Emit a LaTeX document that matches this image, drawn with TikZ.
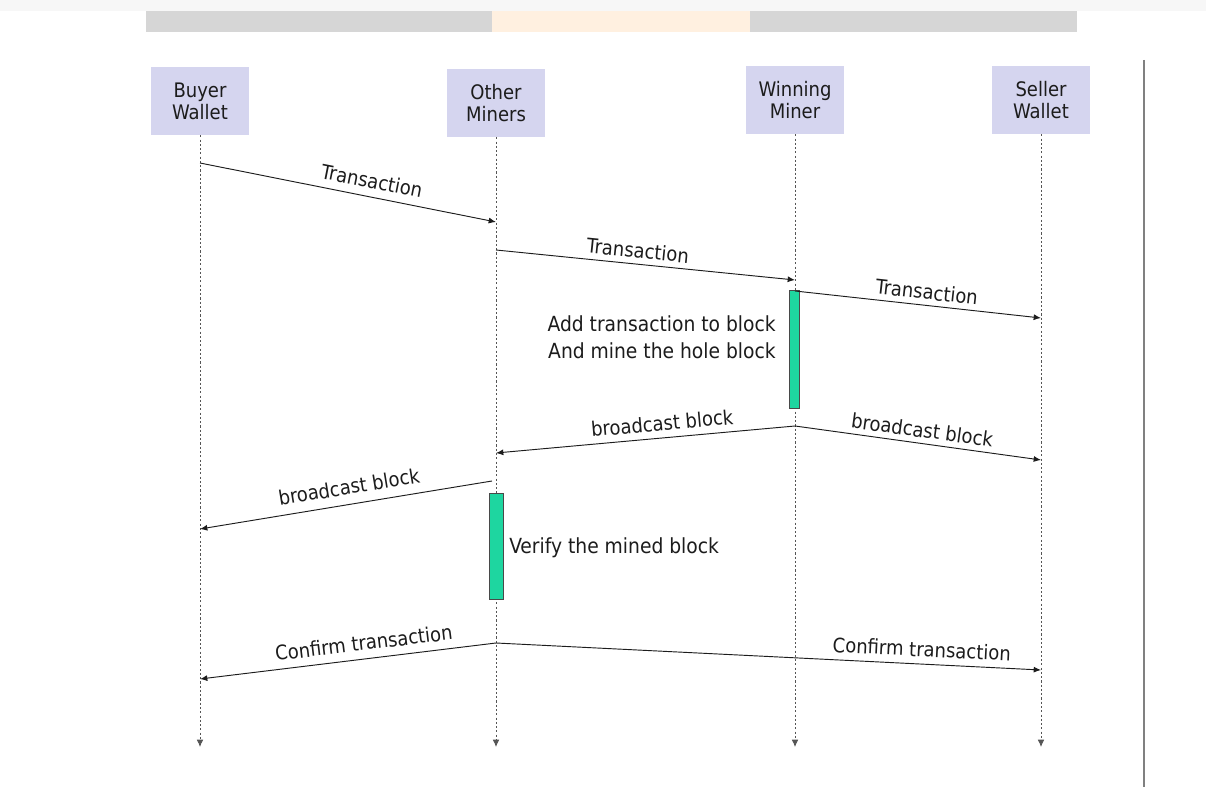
\documentclass[tikz,border=0pt]{standalone}
\usepackage{fontspec}
\setmainfont{DejaVu Sans Condensed}
\usetikzlibrary{arrows.meta}

\definecolor{actorfill}{HTML}{D5D5EF}
\definecolor{inkdark}{HTML}{1C1C1C}
\definecolor{barfill}{HTML}{1ED6A0}
\definecolor{lifegray}{HTML}{555555}

\tikzset{
  actor/.style={fill=actorfill, draw=none, minimum width=74pt, minimum height=51pt,
    align=center, text=inkdark, font=\fontsize{15}{16.5}\selectfont, inner sep=0pt},
  lifeline/.style={draw=lifegray, line width=0.6pt, dash pattern=on 1.6pt off 1.6pt,
    -{Latex[length=5.5pt,width=5pt]}},
  msg/.style={draw=inkdark, line width=0.7pt, -{Latex[length=5.5pt,width=4.5pt]}},
  lbl/.style={sloped, text=inkdark, font=\fontsize{15}{18}\selectfont, inner sep=1pt},
  note/.style={text=inkdark, font=\fontsize{15.6}{20}\selectfont, inner sep=0pt},
  activation/.style={fill=barfill, draw=inkdark!80, line width=0.5pt},
}

\begin{document}
\begin{tikzpicture}[x=0.75pt, y=-0.75pt]
\useasboundingbox (0,0) rectangle (1206,787);
\fill[white] (0,0) rectangle (1206,787);
% header strip
\fill[black!3] (0,0) rectangle (1206,11);
\fill[black!16] (146,11) rectangle (1077,32);
\fill[orange!12] (492,11) rectangle (750,32);

% participants
\node[actor] (buyer)  at (200,101) {Buyer\\Wallet};
\node[actor] (other)  at (496,103) {Other\\Miners};
\node[actor] (winner) at (795,100) {Winning\\Miner};
\node[actor] (seller) at (1041,100) {Seller\\Wallet};

% lifeline ends
\coordinate (buyerEnd)  at (200,747);
\coordinate (otherEnd)  at (496,747);
\coordinate (winnerEnd) at (795,747);
\coordinate (sellerEnd) at (1041,747);

\draw[lifeline] (buyer.south)  -- (buyerEnd);
\draw[lifeline] (other.south)  -- (otherEnd);
\draw[lifeline] (winner.south) -- (winnerEnd);
\draw[lifeline] (seller.south) -- (sellerEnd);

% activation bars
\draw[activation] (789,290) rectangle (799,408);
\draw[activation] (489,493) rectangle (503,599);

% message anchor points on the lifelines
\coordinate (b1) at (200,163);
\coordinate (o1) at (496,222);
\coordinate (o2) at (496,250);
\coordinate (w2) at (795,280);
\coordinate (w3) at (795,291);
\coordinate (s3) at (1041,318);
\coordinate (w4) at (795,426);
\coordinate (o4) at (496,453);
\coordinate (s5) at (1041,460);
\coordinate (o6) at (492,481);
\coordinate (b6) at (200,529);
\coordinate (o7) at (496,643);
\coordinate (b7) at (200,679);
\coordinate (s8) at (1041,670);

% messages
\draw[msg] (b1) -- node[lbl, pos=0.57, above=5pt] {Transaction} (o1);
\draw[msg] (o2) -- node[lbl, pos=0.47, above=3pt] {Transaction} (w2);
\draw[msg] (w3) -- node[lbl, pos=0.53, above=3pt] {Transaction} (s3);
\draw[msg] (w4) -- node[lbl, pos=0.44, above=4pt] {broadcast block} (o4);
\draw[msg] (w4) -- node[lbl, pos=0.51, above=3pt] {broadcast block} (s5);
\draw[msg] (o6) -- node[lbl, pos=0.48, above=6pt] {broadcast block} (b6);
\draw[msg] (o7) -- node[lbl, pos=0.44, above=5pt] {Confirm transaction} (b7);
\draw[msg] (o7) -- node[lbl, pos=0.78, above=4pt] {Confirm transaction} (s8);

% notes
\node[note, anchor=east, align=right] (mine) at (776,337)
  {Add transaction to block\\And mine the hole block};
\node[note, anchor=west] (verify) at (509,548) {Verify the mined block};

% right frame edge
\draw[black!50, line width=1.5pt] (1144,60) -- (1144,787);
\end{tikzpicture}
\end{document}
